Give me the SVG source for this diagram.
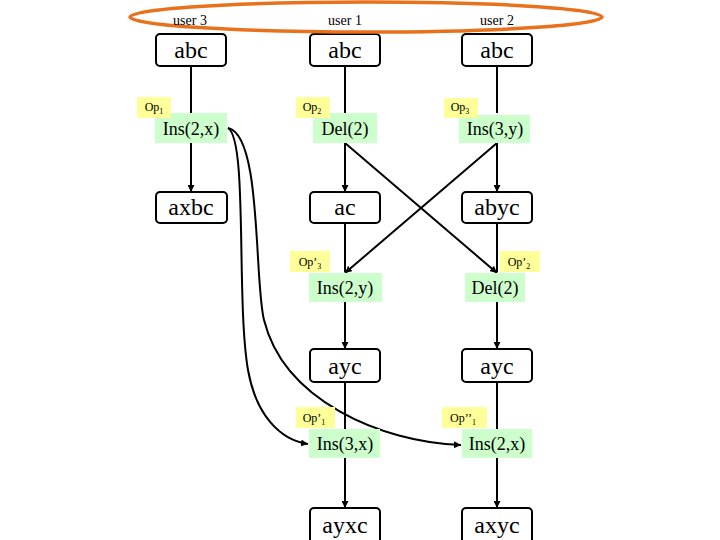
<svg xmlns="http://www.w3.org/2000/svg" width="720" height="540" viewBox="0 0 720 540">
<defs>
<marker id="ah" viewBox="0 0 10 10" refX="10" refY="5" markerWidth="7" markerHeight="7" markerUnits="userSpaceOnUse" orient="auto"><path d="M0,0 L10,5 L0,10 z" fill="#000"/></marker>
<style>
.box{fill:#fff;stroke:#000;stroke-width:2}
.st{font-family:"Liberation Serif",serif;font-size:24px;text-anchor:middle}
.op{fill:#ccffcc}
.opt{font-family:"Liberation Serif",serif;font-size:18px;text-anchor:middle}
.lb{fill:#ffff99}
.lbt{font-family:"Liberation Serif",serif;font-size:12px;text-anchor:middle}
.sub{font-size:8px}
.usr{font-family:"Liberation Serif",serif;font-size:14px;text-anchor:middle}
.ln{stroke:#000;stroke-width:2;fill:none}
</style>
</defs>
<rect width="720" height="540" fill="#fff"/>
<g id="connectors">
<line class="ln" x1="191" y1="65" x2="191" y2="113"/>
<line class="ln" x1="191" y1="143" x2="191" y2="192" marker-end="url(#ah)"/>
<line class="ln" x1="345" y1="65" x2="345" y2="113"/>
<line class="ln" x1="345" y1="143" x2="345" y2="192" marker-end="url(#ah)"/>
<line class="ln" x1="497" y1="65" x2="497" y2="113"/>
<line class="ln" x1="497" y1="143" x2="497" y2="192" marker-end="url(#ah)"/>
<line class="ln" x1="345" y1="223" x2="345" y2="272"/>
<line class="ln" x1="497" y1="223" x2="497" y2="272"/>
<line class="ln" x1="345" y1="143" x2="497" y2="273" marker-end="url(#ah)"/>
<line class="ln" x1="497" y1="143" x2="345" y2="273" marker-end="url(#ah)"/>
<line class="ln" x1="345" y1="302" x2="345" y2="349" marker-end="url(#ah)"/>
<line class="ln" x1="497" y1="302" x2="497" y2="349" marker-end="url(#ah)"/>
<line class="ln" x1="345" y1="382" x2="345" y2="430"/>
<line class="ln" x1="497" y1="382" x2="497" y2="430"/>
<line class="ln" x1="345" y1="458" x2="345" y2="508" marker-end="url(#ah)"/>
<line class="ln" x1="497" y1="458" x2="497" y2="508" marker-end="url(#ah)"/>
<path class="ln" d="M228 128 C248 140 236 300 248 370 C256 415 280 440 308 444" marker-end="url(#ah)"/>
<path class="ln" d="M228 128 C262 135 254 280 264 320 C284 400 380 442 461 445" marker-end="url(#ah)"/>
</g>
<g id="n_u3_abc"><rect class="box" x="156" y="34" width="70" height="32" rx="4"/><text class="st" x="191" y="58">abc</text></g>
<g id="n_u1_abc"><rect class="box" x="310" y="34" width="70" height="32" rx="4"/><text class="st" x="345" y="58">abc</text></g>
<g id="n_u2_abc"><rect class="box" x="462" y="34" width="70" height="32" rx="4"/><text class="st" x="497" y="58">abc</text></g>
<g id="n_ellipse"><ellipse cx="366" cy="17" rx="236" ry="15" fill="none" stroke="#e8721c" stroke-width="3.5"/>
<text class="usr" x="190" y="25">user 3</text><text class="usr" x="345" y="25">user 1</text><text class="usr" x="497" y="25">user 2</text></g>
<g id="n_op1"><rect class="op" x="155" y="113" width="72" height="30"/><text class="opt" x="191" y="135">Ins(2,x)</text>
<rect class="lb" x="137" y="97" width="34" height="21"/><text class="lbt" x="154" y="111">Op<tspan class="sub" dy="3">1</tspan></text></g>
<g id="n_op2"><rect class="op" x="313" y="113" width="64" height="30"/><text class="opt" x="345" y="135">Del(2)</text>
<rect class="lb" x="296" y="97" width="34" height="21"/><text class="lbt" x="312" y="111">Op<tspan class="sub" dy="3">2</tspan></text></g>
<g id="n_op3"><rect class="op" x="459" y="115" width="71" height="28"/><text class="opt" x="495" y="135">Ins(3,y)</text>
<rect class="lb" x="444" y="98" width="34" height="20"/><text class="lbt" x="460" y="111">Op<tspan class="sub" dy="3">3</tspan></text></g>
<g id="n_axbc"><rect class="box" x="156" y="192" width="71" height="31" rx="4"/><text class="st" x="191" y="215">axbc</text></g>
<g id="n_ac"><rect class="box" x="310" y="192" width="70" height="31" rx="4"/><text class="st" x="345" y="215">ac</text></g>
<g id="n_abyc"><rect class="box" x="462" y="192" width="70" height="31" rx="4"/><text class="st" x="497" y="215">abyc</text></g>
<g id="n_op3p"><rect class="op" x="309" y="273" width="73" height="29"/><text class="opt" x="345" y="294">Ins(2,y)</text>
<rect class="lb" x="290" y="251" width="40" height="21"/><text class="lbt" x="310" y="266">Op’<tspan class="sub" dy="3">3</tspan></text></g>
<g id="n_op2p"><rect class="op" x="465" y="273" width="60" height="29"/><text class="opt" x="495" y="294">Del(2)</text>
<rect class="lb" x="500" y="251" width="40" height="21"/><text class="lbt" x="519" y="266">Op’<tspan class="sub" dy="3">2</tspan></text></g>
<g id="n_ayc1"><rect class="box" x="310" y="349" width="70" height="33" rx="4"/><text class="st" x="345" y="374">ayc</text></g>
<g id="n_ayc2"><rect class="box" x="462" y="349" width="70" height="33" rx="4"/><text class="st" x="497" y="374">ayc</text></g>
<g id="n_op1p"><rect class="op" x="309" y="429" width="71" height="29"/><text class="opt" x="345" y="450">Ins(3,x)</text>
<rect class="lb" x="296" y="407" width="39" height="21"/><text class="lbt" x="314" y="422">Op’<tspan class="sub" dy="3">1</tspan></text></g>
<g id="n_op1pp"><rect class="op" x="462" y="429" width="70" height="29"/><text class="opt" x="497" y="450">Ins(2,x)</text>
<rect class="lb" x="442" y="407" width="45" height="21"/><text class="lbt" x="463" y="422">Op’’<tspan class="sub" dy="3">1</tspan></text></g>
<g id="n_ayxc"><rect class="box" x="310" y="508" width="70" height="36" rx="4"/><text class="st" x="345" y="533">ayxc</text></g>
<g id="n_axyc"><rect class="box" x="462" y="508" width="70" height="36" rx="4"/><text class="st" x="497" y="533">axyc</text></g>
</svg>
